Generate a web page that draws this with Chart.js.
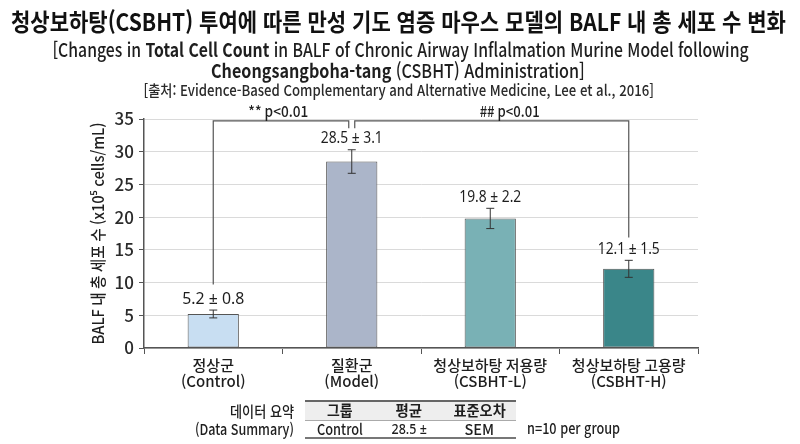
<!DOCTYPE html>
<html lang="ko">
<head>
<meta charset="utf-8">
<script src="https://cdn.jsdelivr.net/npm/chart.js@4.4.1/dist/chart.umd.min.js"></script>
<style>
  html, body { margin: 0; padding: 0; background: #fff; }
  #wrap { position: relative; width: 800px; height: 444px; overflow: hidden; font-family: 'Noto Sans CJK KR', 'Noto Sans', sans-serif; color: #1e1e1e; font-weight: 500; }
  #c { position: absolute; left: 0; top: 0; }
  .t { position: absolute; white-space: nowrap; display: inline-block; }
  .b { font-weight: 700; }
  .box { position: absolute; }
</style>
</head>
<body>
<div id="wrap">
  <canvas id="c" width="800" height="444"></canvas>
</div>
<script>
// ---------- data ----------
const categoriesKo = ['정상군', '질환군', '청상보하탕 저용량', '청상보하탕 고용량'];
const categoriesEn = ['(Control)', '(Model)', '(CSBHT-L)', '(CSBHT-H)'];
const meanValues = [5.2, 28.5, 19.8, 12.1];
const semLabels = [0.8, 3.1, 2.2, 1.5];
const errorBarHalf = [0.6, 1.8, 1.55, 1.3];   // error bar extent as drawn in the figure
const barColors = ['#c8def2', '#abb5c9', '#79b1b5', '#3a8689'];
const yMin = 0, yMax = 35, yStep = 5;
const yTitle = 'BALF 내 총 세포 수 (x10⁵ cells/mL)';
const brackets = [
  { from: 0, to: 1, label: '** p<0.01', fromEnd: 9.7, toEnd: 33.6, top: 34.7, labelAt: 0.47 },
  { from: 1, to: 3, label: '## p<0.01', fromEnd: 33.6, toEnd: 16.9, top: 34.7, labelAt: 0.57 }
];
const titleText = '청상보하탕(CSBHT) 투여에 따른 만성 기도 염증 마우스 모델의 BALF 내 총 세포 수 변화';
const sourceText = '[출처: Evidence-Based Complementary and Alternative Medicine, Lee et al., 2016]';
const tableHeader = ['그룹', '평균', '표준오차'];
const tableRow = ['Control', '28.5 ±', 'SEM'];
const tableNote = 'n=10 per group';

const FONT = "'Noto Sans CJK KR', 'Noto Sans', sans-serif";
const LATIN = "'Noto Sans', 'Noto Sans CJK KR', sans-serif";
Chart.defaults.font.family = FONT;
Chart.defaults.font.weight = '500';

// ---------- overlay plugin ----------
const overlay = {
  id: 'overlay',
  afterDatasetsDraw(chart) {
    const ctx = chart.ctx;
    const x = chart.scales.x, y = chart.scales.y;
    ctx.save();
    // error bars + value labels
    meanValues.forEach((m, i) => {
      const cx = x.getPixelForValue(i);
      const yt = y.getPixelForValue(m + errorBarHalf[i]);
      const yb = y.getPixelForValue(m - errorBarHalf[i]);
      ctx.strokeStyle = '#333';
      ctx.lineWidth = 1;
      ctx.beginPath();
      ctx.moveTo(cx, yt); ctx.lineTo(cx, yb);
      ctx.moveTo(cx - 4, yt); ctx.lineTo(cx + 4, yt);
      ctx.moveTo(cx - 4, yb); ctx.lineTo(cx + 4, yb);
      ctx.stroke();
      ctx.fillStyle = '#1e1e1e';
      ctx.font = '16px ' + LATIN;
      ctx.textAlign = 'center';
      ctx.textBaseline = 'middle';
      ctx.fillText(m.toFixed(1) + ' ± ' + semLabels[i].toFixed(1), cx, yt - 11, 62);
    });
    // brackets
    ctx.strokeStyle = '#555';
    ctx.lineWidth = 1.2;
    brackets.forEach((b, k) => {
      const x1 = x.getPixelForValue(b.from) + (k === 0 ? 0 : 3);
      const x2 = x.getPixelForValue(b.to) + (k === 0 ? -3 : 0);
      const yTop = y.getPixelForValue(b.top);
      ctx.beginPath();
      ctx.moveTo(x1, y.getPixelForValue(b.fromEnd));
      ctx.lineTo(x1, yTop);
      ctx.lineTo(x2, yTop);
      ctx.lineTo(x2, y.getPixelForValue(b.toEnd));
      ctx.stroke();
      const lx = x.getPixelForValue(b.from) + (x.getPixelForValue(b.to) - x.getPixelForValue(b.from)) * b.labelAt;
      ctx.fillStyle = '#1e1e1e';
      ctx.font = '500 15px ' + FONT;
      ctx.textAlign = 'center';
      ctx.textBaseline = 'middle';
      ctx.fillText(b.label, lx, yTop - 10, 60);
    });
    // y title
    ctx.translate(98, (chart.chartArea.top + chart.chartArea.bottom) / 2);
    ctx.rotate(-Math.PI / 2);
    ctx.fillStyle = '#1e1e1e';
    ctx.font = '500 16px ' + FONT;
    ctx.textAlign = 'center';
    ctx.textBaseline = 'middle';
    ctx.fillText(yTitle, 0, 0, 222);
    ctx.restore();
  }
};

new Chart(document.getElementById('c'), {
  type: 'bar',
  data: {
    labels: categoriesKo.map((k, i) => [k, categoriesEn[i]]),
    datasets: [{
      data: meanValues,
      backgroundColor: barColors,
      borderColor: '#555',
      borderWidth: 1,
      borderSkipped: false,
      categoryPercentage: 1,
      barPercentage: 0.37
    }]
  },
  options: {
    responsive: false,
    animation: false,
    events: [],
    layout: { padding: { left: 0, right: 102, top: 119, bottom: 0 } },
    plugins: { legend: { display: false }, tooltip: { enabled: false }, title: { display: false } },
    scales: {
      x: {
        offset: true,
        grid: { offset: true, drawOnChartArea: false, drawTicks: true, tickLength: 6, color: '#555', tickColor: '#555' },
        border: { color: '#555', width: 1.5 },
        ticks: { color: '#1e1e1e', font: { size: 15, lineHeight: 1.1 }, padding: 3, maxRotation: 0, autoSkip: false },
        afterFit(s) { s.height = 96; }
      },
      y: {
        min: yMin, max: yMax,
        ticks: { stepSize: yStep, color: '#2a2a2a', font: { size: 17 }, padding: 5 },
        grid: { color: '#dadada', tickColor: '#555', tickLength: 5, lineWidth: 1 },
        border: { color: '#555', width: 1.5 },
        afterFit(s) { s.width = 144; }
      }
    }
  },
  plugins: [overlay]
});

// ---------- HTML texts ----------
const wrap = document.getElementById('wrap');
function addText(html, opts) {
  const el = document.createElement('span');
  el.className = 't';
  el.innerHTML = html;
  el.style.fontSize = opts.size + 'px';
  el.style.lineHeight = opts.size * 1.3 + 'px';
  el.style.top = (opts.cy - opts.size * 0.65) + 'px';
  if (opts.weight) el.style.fontWeight = opts.weight;
  if (opts.color) el.style.color = opts.color;
  if (opts.family) el.style.fontFamily = opts.family;
  wrap.appendChild(el);
  el._o = opts;
  return el;
}
function addBox(css) {
  const d = document.createElement('div');
  d.className = 'box';
  Object.assign(d.style, css);
  wrap.appendChild(d);
}
const items = [];
items.push(addText(titleText, { size: 24, weight: 700, cy: 21, cx: 398, w: 775, color: '#111' }));
items.push(addText('[Changes in <span class="b">Total Cell Count</span> in BALF of Chronic Airway Inflalmation Murine Model following', { size: 19, cy: 49, cx: 400, w: 696 }));
items.push(addText('<span class="b">Cheongsangboha-tang</span> (CSBHT) Administration]', { size: 19, cy: 70, cx: 398, w: 374 }));
items.push(addText(sourceText, { size: 15, cy: 90, cx: 398, w: 510, color: '#2a2a2a' }));

// table
addBox({ left: '305px', top: '400px', width: '211px', height: '18px', background: '#eeeeee', borderTop: '2px solid #666', borderBottom: '1px solid #aaa' });
addBox({ left: '305px', top: '437px', width: '211px', height: '0px', borderTop: '2px solid #777' });
items.push(addText('데이터 요약', { size: 15, cy: 411, right: 294, w: 64 }));
items.push(addText('(Data Summary)', { size: 15, cy: 429, right: 294, w: 99 }));
const colCenters = [340, 409, 479];
const headerW = [26, 27, 52];
const rowW = [46, 35, 30];
tableHeader.forEach((h, i) => items.push(addText(h, { size: 15, weight: 700, cy: 410, cx: colCenters[i], w: headerW[i] })));
tableRow.forEach((r, i) => items.push(addText(r, { size: 15, cy: 429, cx: colCenters[i], w: rowW[i], family: i === 1 ? LATIN : undefined })));
items.push(addText(tableNote, { size: 15, cy: 428, left: 527, w: 93 }));

function fitAll() {
  items.forEach(el => {
    const o = el._o;
    const w = el.offsetWidth;
    const s = o.w / w;
    if (o.cx !== undefined) { el.style.left = (o.cx - w / 2) + 'px'; el.style.transformOrigin = 'center center'; }
    else if (o.right !== undefined) { el.style.left = (o.right - w) + 'px'; el.style.transformOrigin = 'right center'; }
    else { el.style.left = o.left + 'px'; el.style.transformOrigin = 'left center'; }
    el.style.transform = 'scaleX(' + s.toFixed(4) + ')';
  });
}
fitAll();
if (document.fonts && document.fonts.ready) document.fonts.ready.then(fitAll);
</script>
</body>
</html>
